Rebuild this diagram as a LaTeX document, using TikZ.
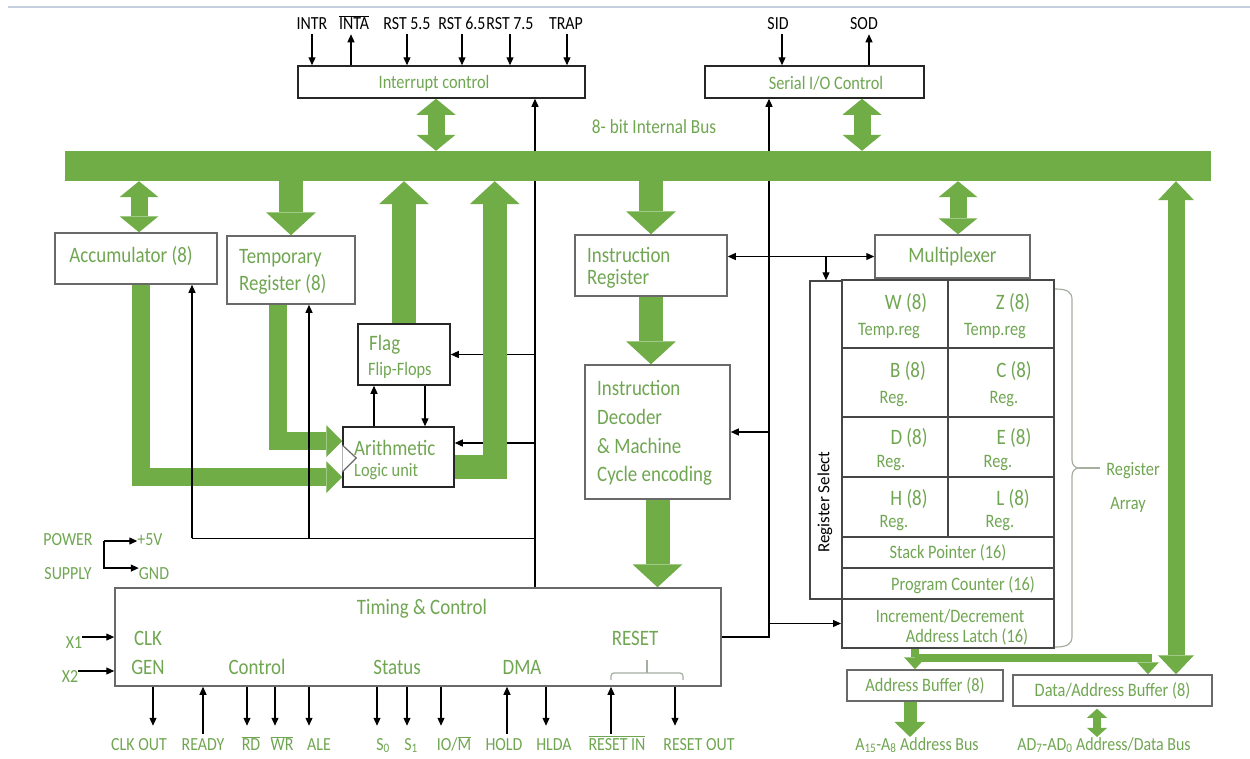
\documentclass[tikz,border=0pt]{standalone}
\usepackage{fontspec}
\setmainfont{Carlito}[FakeStretch=0.86]
\newfontfamily\rsfont{Carlito}
\usetikzlibrary{arrows.meta, positioning, calc}

\definecolor{busgreen}{RGB}{112,173,71}
\definecolor{txtgreen}{RGB}{112,166,82}
\definecolor{boxgray}{RGB}{105,105,105}
\definecolor{gridgray}{RGB}{70,70,70}
\definecolor{pagerule}{RGB}{196,206,222}
\definecolor{bracegray}{RGB}{165,175,160}

\newcommand{\ovl}[1]{$\overline{\mbox{#1}}$}

\begin{document}
\begin{tikzpicture}[x=1pt, y=-1pt,
    box/.style={draw=boxgray, line width=1.5pt, fill=white, inner sep=0pt},
    dbox/.style={box, draw=black!85},
    cell/.style={draw=gridgray, line width=2pt, fill=white, inner sep=0pt, minimum width=106pt},
    gbig/.style={text=txtgreen, inner sep=0pt, font=\fontsize{22}{24}\selectfont},
    gmid/.style={text=txtgreen, inner sep=0pt, font=\fontsize{19}{21}\selectfont},
    sig/.style={inner sep=0pt, anchor=base, font=\fontsize{18.5}{20}\selectfont},
    gsig/.style={sig, text=txtgreen},
    wire/.style={line width=1.2pt, -{Triangle[length=8pt, width=7pt]}},
    wirebi/.style={line width=1.2pt, {Triangle[length=8pt, width=7pt]}-{Triangle[length=8pt, width=7pt]}},
    plain/.style={line width=1.2pt},
    bigarrow/.style={draw=busgreen, line width=24pt, line join=miter, -{Triangle[length=23pt 0 0, width=50pt 0 0, line width=0pt 0 0]}},
    dbl/.style={draw=busgreen, line width=17pt, {Triangle[length=16pt 0 0, width=39pt 0 0, line width=0pt 0 0]}-{Triangle[length=16pt 0 0, width=39pt 0 0, line width=0pt 0 0]}},
    dblbus/.style={draw=busgreen, line width=17pt, {Triangle[length=19pt 0 0, width=36pt 0 0, line width=0pt 0 0]}-{Triangle[length=19pt 0 0, width=36pt 0 0, line width=0pt 0 0]}},
    feed/.style={draw=busgreen, line width=18pt, line join=miter, -{Triangle[length=16pt 0 0, width=32pt 0 0, line width=0pt 0 0]}},
    latch/.style={draw=busgreen, line width=8pt, line join=miter, -{Triangle[length=12pt 0 0, width=22pt 0 0, line width=0pt 0 0]}},
    abus/.style={draw=busgreen, line width=13pt, -{Triangle[length=15pt 0 0, width=31pt 0 0, line width=0pt 0 0]}},
    adbus/.style={draw=busgreen, line width=8pt, {Triangle[length=9pt 0 0, width=20pt 0 0, line width=0pt 0 0]}-{Triangle[length=9pt 0 0, width=20pt 0 0, line width=0pt 0 0]}},
    bracec/.style={draw=bracegray, line width=1.2pt}
]
\useasboundingbox[fill=white] (0,0) rectangle (1250,758);
\draw[pagerule, line width=2pt] (8,7) -- (1250,7);

% INTERNAL BUS
\node[fill=busgreen, inner sep=0pt, minimum width=1146pt, minimum height=30pt] (bus) at (638,166) {};
\node[gmid, font=\fontsize{20}{22}\selectfont] (buslbl) at (654,127) {8- bit Internal Bus};

% Interrupt and serial control
\node[dbox, minimum width=287pt, minimum height=32pt] (intc) at (441.5,82) {};
\node[gmid] (intclbl) at (434,83) {Interrupt control};
\node[dbox, minimum width=219pt, minimum height=32pt] (sio) at (814.5,82) {};
\node[gmid] (siolbl) at (826,83) {Serial I/O Control};

% Pins of the interrupt and serial blocks
\node[sig] (intr) at (312,29) {INTR};
\node[sig] (inta) at (354,29) {\ovl{INTA}};
\node[sig] (rst55) at (407,29) {RST 5.5};
\node[sig] (rst65) at (462,29) {RST 6.5};
\node[sig] (rst75) at (510,29) {RST 7.5};
\node[sig] (trap) at (566,29) {TRAP};
\node[sig] (sid) at (778,29) {SID};
\node[sig] (sod) at (864,29) {SOD};

% ALU side
\node[box, gbig, minimum width=162pt, minimum height=51pt] (acc) at (136,258.5) {};
\node[gbig] (acclbl) at (131,256) {Accumulator (8)};
\node[box, minimum width=128pt, minimum height=68pt] (tmp) at (291,270) {};
\node[gbig, anchor=west] (tmplbl1) at (239,258) {Temporary};
\node[gbig, anchor=west] (tmplbl2) at (239,284) {Register (8)};
\node[dbox, minimum width=92pt, minimum height=61pt] (flag) at (404,354.5) {};
\node[gbig, anchor=west] (flaglbl1) at (369,345) {Flag};
\node[gmid, anchor=west] (flaglbl2) at (368,370) {Flip-Flops};
\node[dbox, minimum width=111pt, minimum height=60pt] (alu) at (398.5,457) {};
\node[gbig, anchor=west] (alulbl1) at (354,448) {Arithmetic};
\node[gmid, anchor=west] (alulbl2) at (354,472) {Logic unit};

% Instruction path
\node[box, minimum width=152pt, minimum height=61pt] (ir) at (651,265.5) {};
\node[gbig, anchor=west] (irlbl1) at (587,255) {Instruction};
\node[gbig, anchor=west] (irlbl2) at (587,279) {Register};
\node[box, minimum width=145pt, minimum height=134pt] (dec) at (657.5,432) {};
\node[gbig, anchor=west] (declbl1) at (597,388) {Instruction};
\node[gbig, anchor=west] (declbl2) at (597,417) {Decoder};
\node[gbig, anchor=west] (declbl3) at (597,446) {\& Machine};
\node[gbig, anchor=west] (declbl4) at (597,476) {Cycle encoding};

% Register array
\node[box, gbig, minimum width=155pt, minimum height=43pt] (mux) at (952.5,256.5) {Multiplexer};
\node[box, draw=gridgray, minimum width=32pt, minimum height=318pt] (regsel) at (826,440) {};
\node[rotate=90, inner sep=0pt, font=\rsfont\fontsize{17}{19}\selectfont] (rsellbl) at (825,502) {Register Select};
\node[cell, minimum height=68pt] (wreg) at (895,314) {};
\node[cell, minimum height=68pt] (zreg) at (1001,314) {};
\node[cell, minimum height=69pt] (breg) at (895,382.5) {};
\node[cell, minimum height=69pt] (creg) at (1001,382.5) {};
\node[cell, minimum height=60pt] (dreg) at (895,447) {};
\node[cell, minimum height=60pt] (ereg) at (1001,447) {};
\node[cell, minimum height=60pt] (hreg) at (895,507) {};
\node[cell, minimum height=60pt] (lreg) at (1001,507) {};
\node[cell, gmid, minimum width=212pt, minimum height=31pt] (sp) at (948,552.5) {Stack Pointer (16)};
\node[cell, minimum width=212pt, minimum height=31pt] (pc) at (948,583.5) {};
\node[gmid] (pclbl) at (963,585) {Program Counter (16)};
\node[cell, minimum width=212pt, minimum height=49pt] (incdec) at (948,623.5) {};
\node[gmid] (incdeclbl1) at (950,616) {Increment/Decrement};
\node[gmid] (incdeclbl2) at (967,637) {Address Latch (16)};

\node[gbig] (wlbl) at (906,303) {W (8)};
\node[gmid] (wtmp) at (889,331) {Temp.reg};
\node[gbig] (zlbl) at (1013,303) {Z (8)};
\node[gmid] (ztmp) at (995,331) {Temp.reg};
\node[gbig] (blbl) at (908,371) {B (8)};
\node[gmid] (bsub) at (894,399) {Reg.};
\node[gbig] (clbl) at (1014,371) {C (8)};
\node[gmid] (csub) at (1004,399) {Reg.};
\node[gbig] (dlbl) at (909,438) {D (8)};
\node[gmid] (dsub) at (891,463) {Reg.};
\node[gbig] (elbl) at (1014,438) {E (8)};
\node[gmid] (esub) at (998,463) {Reg.};
\node[gbig] (hlbl) at (909,499) {H (8)};
\node[gmid] (hsub) at (894,523) {Reg.};
\node[gbig] (llbl) at (1013,499) {L (8)};
\node[gmid] (lsub) at (1000,523) {Reg.};

% Brace round the register array
\draw[bracec] (1055,289) .. controls (1068,289) and (1072,292) .. (1072,300) -- (1072,460)
    .. controls (1072,465) and (1075,468) .. (1079,468)
    .. controls (1075,468) and (1072,471) .. (1072,476) -- (1072,636)
    .. controls (1072,644) and (1068,647) .. (1055,647);
\draw[bracec] (1079,468) -- (1100,468);
\node[gmid] (arrlbl1) at (1133,471) {Register};
\node[gmid] (arrlbl2) at (1128,505) {Array};

% Buffers
\node[box, gmid, minimum width=156pt, minimum height=31pt] (addrbuf) at (925,685.5) {Address Buffer (8)};
\node[box, gmid, minimum width=199pt, minimum height=31pt] (databuf) at (1112.5,690.5) {Data/Address Buffer (8)};
\node[gsig] (abuslbl) at (917,750) {A\textsubscript{15}-A\textsubscript{8} Address Bus};
\node[gsig] (adbuslbl) at (1104,750) {AD\textsubscript{7}-AD\textsubscript{0} Address/Data Bus};

% Timing and control
\node[box, minimum width=606pt, minimum height=98pt] (timing) at (418,637) {};
\node[gbig] (tclbl) at (422,609) {Timing \& Control};
\node[gbig] (clklbl) at (148,638) {CLK};
\node[gbig] (genlbl) at (148,667) {GEN};
\node[gbig] (ctrllbl) at (257,667) {Control};
\node[gbig] (statlbl) at (397,667) {Status};
\node[gbig] (dmalbl) at (522,667) {DMA};
\node[gbig] (rstlbl) at (635,638) {RESET};
\draw[bracec, rounded corners=3pt] (611,680) -- (611,673) -- (683,673) -- (683,680);
\draw[bracec] (647,673) -- (647,660);

% Supply and clock inputs
\node[gsig] (power) at (68,545) {POWER};
\node[gsig] (supply) at (68,579) {SUPPLY};
\node[gsig] (p5v) at (150,545) {+5V};
\node[gsig] (gnd) at (154,579) {GND};
\node[gsig] (xone) at (74,648) {X1};
\node[gsig] (xtwo) at (70,682) {X2};

% Timing pins
\node[gsig] (clkout) at (139,750) {CLK OUT};
\node[gsig] (ready) at (203,750) {READY};
\node[gsig] (rd) at (251,750) {\ovl{RD}};
\node[gsig] (wr) at (282,750) {\ovl{WR}};
\node[gsig] (ale) at (319,750) {ALE};
\node[gsig] (szero) at (383,750) {S\textsubscript{0}};
\node[gsig] (sone) at (411,750) {S\textsubscript{1}};
\node[gsig] (iom) at (454,750) {IO/\ovl{M}};
\node[gsig] (hold) at (504,750) {HOLD};
\node[gsig] (hlda) at (554,750) {HLDA};
\node[gsig] (rstin) at (617,750) {\ovl{RESET IN}};
\node[gsig] (rstout) at (699,750) {RESET OUT};

% GREEN FEEDS INTO THE ALU (under the wires)
\draw[feed] ([xshift=5pt]acc.south) |- ([yshift=-20pt]alu.west);
\draw[feed] ([xshift=-13pt]tmp.south) |- ([yshift=16pt]alu.west);

% WIRES
% interrupt pins
\draw[wire] (intc.north -| intr) ++(0,-31) -- ++(0,31);
\draw[wire] (intc.north -| inta) ++(-3,0) -- ++(0,-31);
\draw[wire] (intc.north -| rst55) ++(0,-31) -- ++(0,31);
\draw[wire] (intc.north -| rst65) ++(0,-31) -- ++(0,31);
\draw[wire] (intc.north -| rst75) ++(0,-31) -- ++(0,31);
\draw[wire] (intc.north -| trap) ++(1,-31) -- ++(0,31);
\draw[wire] (sio.north -| sid) ++(4,-31) -- ++(0,31);
\draw[wire] (sio.north -| sod) ++(5,0) -- ++(0,-31);

% control line from timing up to interrupt control
\coordinate (ctl) at ([xshift=117pt]timing.north);
\draw[plain] (ctl) -- (ctl |- bus.south);
\draw[wire] (ctl |- bus.north) -- (ctl |- intc.south);
\draw[wire] (ctl |- flag.east) -- (flag.east);
\coordinate (aluin) at ([yshift=14pt]alu.east);
\draw[wire] (ctl |- aluin) -- (aluin);
\coordinate (fbk) at ([yshift=49pt]ctl);
\coordinate (accfb) at ([xshift=56pt]acc.south);
\coordinate (tmpfb) at ([xshift=18pt]tmp.south);
\draw[plain] (fbk) -- (fbk -| accfb);
\draw[wire] (fbk -| accfb) -- (accfb);
\draw[wire] (fbk -| tmpfb) -- (tmpfb);

% flag <-> ALU
\coordinate (fup) at ([xshift=-30pt]flag.south);
\coordinate (fdn) at ([xshift=21pt]flag.south);
\draw[wire] (fup |- alu.north) -- (fup);
\draw[wire] (fdn) -- (fdn |- alu.north);

% control line from timing to serial, decoder and latch
\coordinate (sioin) at ([xshift=-45.5pt]sio.south);
\draw[plain] (timing.east) -| (sioin |- bus.south);
\draw[wire] (sioin |- bus.north) -- (sioin);
\draw[wire] (sioin |- dec.east) -- (dec.east);
\draw[wire] (sioin |- incdec.west) -- (incdec.west);

% IR <-> multiplexer, register select
\draw[wirebi] (ir.east |- mux.west) -- (mux.west);
\draw[wire] (regsel.north |- mux.west) -- (regsel.north);

% supply and clock
\coordinate (pwr) at (104,541);
\draw[wire] (pwr) -- (pwr -| p5v.west);
\draw[wire] (pwr) |- ([yshift=5pt]gnd.west);
\draw[wire] ([yshift=5pt]xone.east) -- ([yshift=5pt]xone.east -| timing.west);
\draw[wire] ([yshift=5pt]xtwo.east) -- ([yshift=5pt]xtwo.east -| timing.west);

% timing pins
\draw[wire] (timing.south -| clkout) ++(14,0) -- ++(0,39);
\draw[wire] (timing.south -| ready) ++(0,47) -- ++(0,-47);
\draw[wire] (timing.south -| rd) ++(-4,0) -- ++(0,39);
\draw[wire] (timing.south -| wr) ++(-7,0) -- ++(0,39);
\draw[wire] (timing.south -| ale) ++(-10,0) -- ++(0,39);
\draw[wire] (timing.south -| szero) ++(-6,0) -- ++(0,39);
\draw[wire] (timing.south -| sone) ++(-4,0) -- ++(0,39);
\draw[wire] (timing.south -| iom) ++(-13,0) -- ++(0,39);
\draw[wire] (timing.south -| hold) ++(3,47) -- ++(0,-47);
\draw[wire] (timing.south -| hlda) ++(-8,0) -- ++(0,39);
\draw[wire] (timing.south -| rstin) ++(-6,47) -- ++(0,-47);
\draw[wire] (timing.south -| rstout) ++(-24,0) -- ++(0,39);

% ALU input notch
\fill[white] ([yshift=12pt]alu.west) -- ([xshift=14pt, yshift=-1pt]alu.west) -- ([yshift=-15pt]alu.west) -- cycle;
\draw[boxgray, line width=1.2pt] ([yshift=12pt]alu.west) -- ([xshift=14pt, yshift=-1pt]alu.west) -- ([yshift=-15pt]alu.west);

% GREEN BUS ARROWS
\coordinate (ibus) at ([xshift=-5.5pt]intc.south);
\draw[dbl] (ibus) -- (ibus |- bus.north);
\coordinate (sbus) at ([xshift=47.5pt]sio.south);
\draw[dbl] (sbus) -- (sbus |- bus.north);
\draw[dbl] ([xshift=3pt]acc.north) -- ([xshift=3pt]acc.north |- bus.south);
\draw[bigarrow] (bus.south -| tmp.north) -- (tmp.north);
\draw[bigarrow] (flag.north) -- (flag.north |- bus.south);
\draw[bigarrow] ([yshift=-10pt]alu.east) -| ($(bus.south -| alu.east)+(40,0)$);
\draw[bigarrow] (bus.south -| ir.north) -- (ir.north);
\draw[bigarrow] (ir.south) -- (ir.south |- dec.north);
\draw[bigarrow] (dec.south) -- (dec.south |- timing.north);
\coordinate (mbus) at ([xshift=5.5pt]mux.north);
\draw[dbl] (mbus) -- (mbus |- bus.south);
\coordinate (dbus) at ([xshift=63.5pt]databuf.north);
\draw[dblbus] (dbus) -- (dbus |- bus.south);

% latch to buffers
\coordinate (lat) at ([xshift=-33pt]incdec.south);
\draw[latch] (lat) -- (lat |- addrbuf.north);
\coordinate (datin) at ([xshift=35.5pt]databuf.north);
\draw[latch] ([yshift=-9pt]lat) -| (datin);

% external buses
\coordinate (aout) at ([xshift=-15pt]addrbuf.south);
\draw[abus] (aout) -- (aout |- abuslbl.north);
\coordinate (dout) at ([xshift=-15.5pt]databuf.south);
\draw[adbus] ([yshift=-2pt]dout) -- (dout |- adbuslbl.north);

\end{tikzpicture}
\end{document}
